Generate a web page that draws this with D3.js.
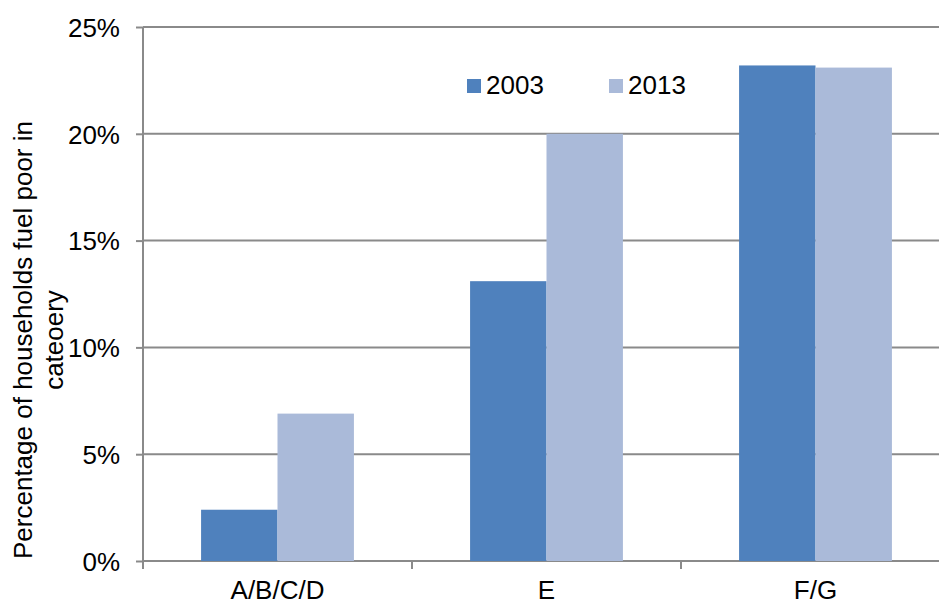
<!DOCTYPE html>
<html>
<head>
<meta charset="utf-8">
<script src="https://cdn.jsdelivr.net/npm/d3@7"></script>
<style>
  body { margin: 0; background: #fff; }
  text { font-family: "Liberation Sans", Arial, sans-serif; fill: #000; }
</style>
</head>
<body>
<div id="chart"></div>
<script>
// data
const categories = ['A/B/C/D', 'E', 'F/G'];
const series = ['2003', '2013'];
const values2003 = [2.4, 13.1, 23.2];
const values2013 = [6.9, 20.0, 23.1];
const yTicks = [0, 5, 10, 15, 20, 25];
const colors = ['#4f81bd', '#aabad9'];

const W = 939, H = 605;
const margin = {top: 27, left: 143},
    plotW = 807,   // runs a bit past the right edge, like the original
    plotH = 534;

const svg = d3.select('#chart').append('svg')
  .attr('width', W)
  .attr('height', H);

const g = svg.append('g')
  .attr('transform', `translate(${margin.left},${margin.top})`);

const x0 = d3.scaleBand()
  .domain(categories)
  .range([0, plotW]);

const x1 = d3.scaleBand()
  .domain(series)
  .range([0, x0.bandwidth()])
  .paddingOuter(0.76);

const y = d3.scaleLinear()
  .domain([0, 25])
  .range([plotH, 0]);

// gridlines
g.append('g')
  .selectAll('line')
  .data(yTicks)
  .enter()
  .append('line')
  .attr('x1', 0)
  .attr('x2', plotW)
  .attr('y1', d => y(d))
  .attr('y2', d => y(d))
  .attr('stroke', '#8a8a8a')
  .attr('stroke-width', 2);

// bars
const rows = categories.map((c, i) => ({cat: c, vals: [values2003[i], values2013[i]]}));
g.append('g')
  .selectAll('g')
  .data(rows)
  .enter()
  .append('g')
  .attr('transform', d => `translate(${x0(d.cat)},0)`)
  .selectAll('rect')
  .data(d => d.vals.map((v, j) => ({s: series[j], v: v, j: j})))
  .enter()
  .append('rect')
  .attr('x', d => x1(d.s))
  .attr('width', x1.bandwidth())
  .attr('y', d => y(d.v))
  .attr('height', d => plotH - y(d.v))
  .attr('fill', d => colors[d.j]);

// y axis
const yAxis = g.append('g')
  .call(d3.axisLeft(y).tickValues(yTicks).tickFormat(d => d + '%').tickSize(7).tickPadding(16));
yAxis.select('.domain').remove();
yAxis.selectAll('line').attr('stroke', '#8a8a8a').attr('stroke-width', 2);
yAxis.selectAll('text').style('font-size', '26px').attr('dy', '0.36em');
g.append('line')
  .attr('x1', 0).attr('x2', 0)
  .attr('y1', 0).attr('y2', plotH + 8)
  .attr('stroke', '#8a8a8a').attr('stroke-width', 2);

// x axis: ticks on the band edges, labels in the middle
const edges = categories.map(c => x0(c)).concat([plotW]);
g.append('g')
  .selectAll('line')
  .data(edges.slice(1))
  .enter()
  .append('line')
  .attr('x1', d => d).attr('x2', d => d)
  .attr('y1', plotH).attr('y2', plotH + 8)
  .attr('stroke', '#8a8a8a').attr('stroke-width', 2);

const xAxis = g.append('g')
  .attr('transform', `translate(0,${plotH})`)
  .call(d3.axisBottom(x0).tickSize(0).tickPadding(20));
xAxis.select('.domain').remove();
xAxis.selectAll('text').style('font-size', '26px');

// y axis title
svg.append('text')
  .attr('transform', 'translate(32,340) rotate(-90)')
  .attr('text-anchor', 'middle')
  .style('font-size', '26px')
  .selectAll('tspan')
  .data(['Percentage of households fuel poor in', 'cateoery'])
  .enter()
  .append('tspan')
  .attr('x', 0)
  .attr('dy', (d, i) => i ? 31 : 0)
  .text(d => d);

// legend
const legendX = [467, 609];
const legend = svg.append('g')
  .selectAll('g')
  .data(series)
  .enter()
  .append('g')
  .attr('transform', (d, i) => `translate(${legendX[i]},79)`);
legend.append('rect')
  .attr('width', 14)
  .attr('height', 14)
  .attr('fill', (d, i) => colors[i]);
legend.append('text')
  .attr('x', 19)
  .attr('y', 15)
  .style('font-size', '26px')
  .text(d => d);
</script>
</body>
</html>
